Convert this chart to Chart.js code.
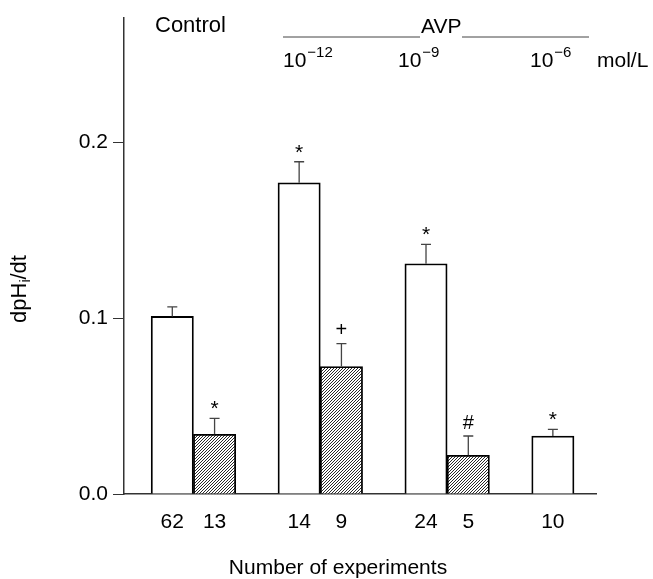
<!DOCTYPE html>
<html>
<head>
<meta charset="utf-8">
<script src="https://cdn.jsdelivr.net/npm/chart.js@4.4.0/dist/chart.umd.min.js"></script>
<style>
  html, body { margin: 0; padding: 0; background: #fff; }
</style>
</head>
<body>
<canvas id="chart" width="653" height="579"></canvas>
<script>
// groups along the x axis: control, then AVP at three concentrations
var groups = ['Control', '10-12', '10-9', '10-6'];

// open bars
var openMean = [0.101, 0.177, 0.131, 0.033];
var openErr  = [0.0055, 0.012, 0.011, 0.0038];
var openN    = [62, 14, 24, 10];
var openMark = ['', '*', '*', '*'];

// hatched bars
var hatchMean = [0.034, 0.0725, 0.022, null];
var hatchErr  = [0.009, 0.013, 0.011, null];
var hatchN    = [13, 9, 5, null];
var hatchMark = ['*', '+', '#', ''];

var yTicks = [0, 0.1, 0.2];
var yMax = 0.271;

var FONT = '"Liberation Sans", Arial, sans-serif';

var canvas = document.getElementById('chart');
var ctx0 = canvas.getContext('2d');

function hatchPattern() {
  var c = document.createElement('canvas');
  c.width = 3; c.height = 3;
  var g = c.getContext('2d');
  g.fillStyle = '#fff';
  g.fillRect(0, 0, 3, 3);
  g.strokeStyle = '#111';
  g.lineWidth = 0.9;
  g.beginPath();
  g.moveTo(0, 3); g.lineTo(3, 0);
  g.moveTo(-1, 1); g.lineTo(1, -1);
  g.moveTo(2, 4); g.lineTo(4, 2);
  g.stroke();
  return ctx0.createPattern(c, 'repeat');
}

// open bar of group i sits at slot 3i, hatched one at 3i+1
function points(vals, shift) {
  var out = [];
  vals.forEach(function (v, i) {
    if (v != null) out.push({ x: 3 * i + shift, y: v });
  });
  return out;
}

var xTicks = [];
groups.forEach(function (g, i) {
  xTicks.push({ value: 3 * i, label: String(openN[i]) });
  if (hatchN[i] != null) xTicks.push({ value: 3 * i + 1, label: String(hatchN[i]) });
});

// error bars and significance marks
var errorBars = {
  id: 'errorBars',
  afterDatasetsDraw: function (chart) {
    var ctx = chart.ctx;
    var y = chart.scales.y;
    var sets = [
      { mean: openMean, err: openErr, mark: openMark },
      { mean: hatchMean, err: hatchErr, mark: hatchMark }
    ];
    sets.forEach(function (s, d) {
      var meta = chart.getDatasetMeta(d);
      var k = 0;
      s.mean.forEach(function (m, i) {
        if (m == null) return;
        var bar = meta.data[k++];
        var yTop = y.getPixelForValue(m + s.err[i]);
        ctx.save();
        ctx.strokeStyle = '#444';
        ctx.lineWidth = 1.3;
        ctx.beginPath();
        ctx.moveTo(bar.x, bar.y);
        ctx.lineTo(bar.x, yTop);
        ctx.moveTo(bar.x - 5, yTop);
        ctx.lineTo(bar.x + 5, yTop);
        ctx.stroke();
        if (s.mark[i]) {
          ctx.fillStyle = '#000';
          ctx.textAlign = 'center';
          ctx.textBaseline = 'middle';
          if (s.mark[i] === '*') {
            ctx.font = '21px ' + FONT;
            ctx.fillText('*', bar.x, yTop - 9);
          } else {
            ctx.font = '20px ' + FONT;
            ctx.fillText(s.mark[i], bar.x, yTop - 13);
          }
        }
        ctx.restore();
      });
    });
  }
};

// headers and axis titles
var labels = {
  id: 'labels',
  afterDraw: function (chart) {
    var ctx = chart.ctx;
    ctx.save();
    ctx.fillStyle = '#000';
    ctx.textBaseline = 'alphabetic';
    ctx.textAlign = 'left';
    ctx.font = '22px ' + FONT;
    ctx.fillText('Control', 155, 32);
    ctx.font = '21px ' + FONT;
    ctx.fillText('AVP', 421, 33);
    ctx.strokeStyle = '#444';
    ctx.lineWidth = 1;
    ctx.beginPath();
    ctx.moveTo(283, 37); ctx.lineTo(420, 37);
    ctx.moveTo(462, 37); ctx.lineTo(589, 37);
    ctx.stroke();

    function power(x, exp) {
      ctx.font = '21px ' + FONT;
      ctx.fillText('10', x, 67);
      var w = ctx.measureText('10').width;
      ctx.font = '15px ' + FONT;
      ctx.fillText(exp, x + w + 1, 57);
    }
    power(283, '\u221212');
    power(398, '\u22129');
    power(530, '\u22126');
    ctx.font = '21px ' + FONT;
    ctx.fillText('mol/L', 597, 67);

    // x title
    ctx.textAlign = 'center';
    ctx.fillText('Number of experiments', 338, 574);

    // y title: dpH_i/dt
    ctx.translate(26, 289);
    ctx.rotate(-Math.PI / 2);
    ctx.textAlign = 'left';
    ctx.font = '22px ' + FONT;
    var a = ctx.measureText('dpH').width;
    var c = ctx.measureText('/dt').width;
    ctx.font = '14px ' + FONT;
    var b = ctx.measureText('i').width;
    var x0 = -(a + b + c) / 2;
    ctx.font = '22px ' + FONT;
    ctx.fillText('dpH', x0, 0);
    ctx.font = '14px ' + FONT;
    ctx.fillText('i', x0 + a, 4);
    ctx.font = '22px ' + FONT;
    ctx.fillText('/dt', x0 + a + b, 0);
    ctx.restore();
  }
};

new Chart(canvas, {
  type: 'bar',
  data: {
    datasets: [
      {
        label: 'open',
        data: points(openMean, 0),
        backgroundColor: '#fff',
        borderColor: '#000',
        borderWidth: 1.8,
        grouped: false,
        barPercentage: 1,
        categoryPercentage: 1
      },
      {
        label: 'hatched',
        data: points(hatchMean, 1),
        backgroundColor: hatchPattern(),
        borderColor: '#000',
        borderWidth: 1.8,
        grouped: false,
        barPercentage: 1,
        categoryPercentage: 1
      }
    ]
  },
  options: {
    responsive: false,
    animation: false,
    devicePixelRatio: 1,
    layout: { padding: { top: 15, right: 57, left: 0, bottom: 0 } },
    plugins: { legend: { display: false }, tooltip: { enabled: false } },
    scales: {
      x: {
        type: 'linear',
        offset: false,
        min: -1.142,
        max: 10.02,
        grid: { display: false, offset: false },
        border: { color: '#333', width: 1.4 },
        afterBuildTicks: function (s) {
          s.ticks = xTicks.map(function (t) { return { value: t.value }; });
        },
        afterFit: function (s) { s.height = 85; },
        ticks: {
          color: '#000',
          font: { family: FONT, size: 21 },
          padding: 8,
          maxRotation: 0,
          autoSkip: false,
          callback: function (v, i) { return xTicks[i] ? xTicks[i].label : ''; }
        }
      },
      y: {
        min: 0,
        max: yMax,
        grid: { drawOnChartArea: false, drawTicks: true, tickLength: 11, color: '#333', lineWidth: 1 },
        border: { color: '#333', width: 1.5 },
        afterBuildTicks: function (s) {
          s.ticks = yTicks.map(function (v) { return { value: v }; });
        },
        afterFit: function (s) { s.width = 124; },
        ticks: {
          color: '#000',
          font: { family: FONT, size: 21 },
          padding: 5,
          callback: function (v) { return v.toFixed(1); }
        }
      }
    }
  },
  plugins: [errorBars, labels]
});
</script>
</body>
</html>
